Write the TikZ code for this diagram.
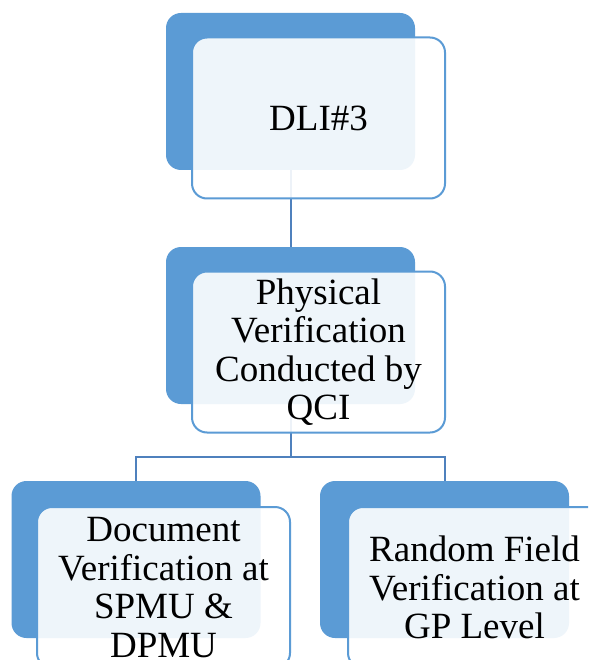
\documentclass[tikz,border=0pt]{standalone}
\usepackage{fontspec}
\setmainfont{Liberation Serif}
\definecolor{accentblue}{RGB}{91,155,213}
\definecolor{connblue}{RGB}{79,129,189}
\tikzset{
  backbox/.style={draw=none, fill=accentblue, rounded corners=15pt,
    minimum width=249pt, minimum height=157pt, inner sep=0pt},
  frontbox/.style={draw=accentblue, line width=2pt, fill=white, fill opacity=0.9,
    text opacity=1, rounded corners=15pt, minimum width=253pt, minimum height=161pt,
    inner sep=0pt, align=center, font=\fontsize{37}{38.5}\selectfont},
  conn/.style={draw=connblue, line width=2pt}
}
\begin{document}
\begin{tikzpicture}[x=1pt,y=-1pt]
\useasboundingbox (0,0) rectangle (588,660);
\clip (0,0) rectangle (588,660);
\fill[white] (0,0) rectangle (588,660);
% back boxes
\node[backbox] (b1) at (290.5,91.5) {};
\node[backbox] (b2) at (290.5,325.5) {};
\node[backbox] (b3) at (136,559.5) {};
\node[backbox] (b4) at (444.5,559.5) {};
% connectors
\coordinate (j) at (290.5,457);
\draw[conn] (b1.south) -- (b2.north);
\draw[conn] (b2.south) -- (j);
\draw[conn] (j) -| (b3.north);
\draw[conn] (j) -| (b4.north);
% front boxes
\node[frontbox] (f1) at (318.5,118) {DLI\#3};
\node[frontbox] (f2) at (318.5,352) {Physical\\Verification\\Conducted by\\QCI};
\node[frontbox] (f3) at (163.5,587.5) {Document\\Verification at\\SPMU \&\\DPMU};
\node[frontbox] (f4) at (474.5,587.5) {Random Field\\Verification at\\GP Level};
\end{tikzpicture}
\end{document}
